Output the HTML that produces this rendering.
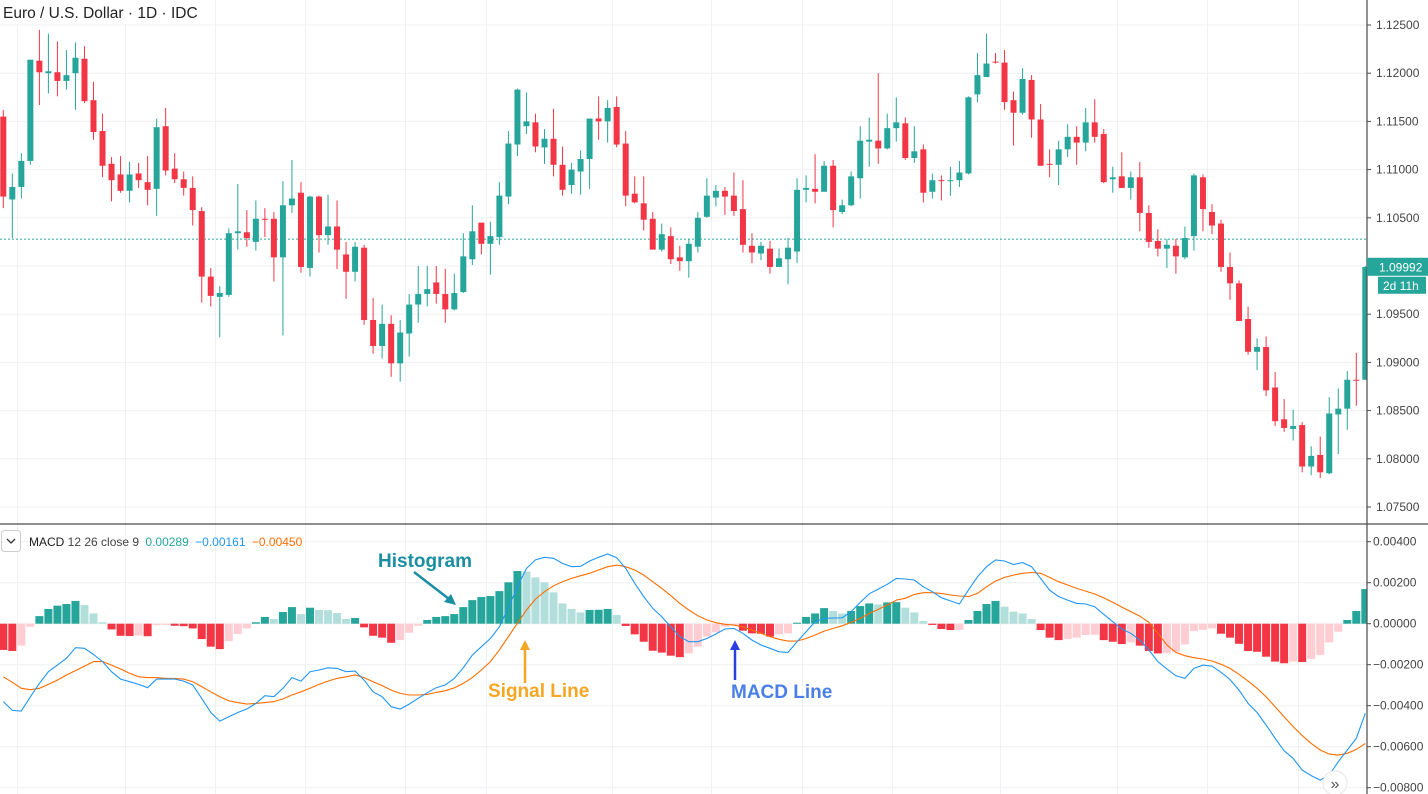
<!DOCTYPE html>
<html><head><meta charset="utf-8"><title>EUR/USD MACD</title>
<style>
html,body{margin:0;padding:0;background:#fff;width:1428px;height:794px;overflow:hidden}
svg{display:block;font-family:"Liberation Sans",sans-serif}
</style></head>
<body>
<svg id="chart" width="1428" height="794" viewBox="0 0 1428 794" xmlns="http://www.w3.org/2000/svg">
<g id="grid"></g>
<g id="candles"></g>
<g id="macdpane"></g>
<g id="axes"></g>
<rect x="0" y="0" width="200" height="24" fill="#fff"/>
<text x="3" y="18" font-size="15.5" fill="#222">Euro / U.S. Dollar · 1D · IDC</text>
<rect x="1.5" y="530.5" width="19" height="21" rx="3" fill="#fff" stroke="#ccc"/>
<path d="M7 539 L11 543 L15 539" fill="none" stroke="#333" stroke-width="1.3"/>
<text x="29" y="546" font-size="12" fill="#222">MACD <tspan fill="#444">12 26 close 9</tspan> <tspan fill="#26a69a" dx="3">0.00289</tspan> <tspan fill="#2196f3" dx="3">−0.00161</tspan> <tspan fill="#ff6d00" dx="3">−0.00450</tspan></text>
<g>
<text x="378" y="567" font-size="19" font-weight="bold" fill="#1a8ea3">Histogram</text>
<line x1="414" y1="572" x2="449" y2="599" stroke="#1a8ea3" stroke-width="2.5"/>
<path d="M456 605 L444 602 L451 594 Z" fill="#1a8ea3"/>
</g>
<g>
<text x="488" y="697" font-size="19" font-weight="bold" fill="#f5a623">Signal Line</text>
<line x1="525" y1="683" x2="525" y2="648" stroke="#f5a623" stroke-width="2.5"/>
<path d="M520 650 L525 640 L530 650 Z" fill="#f5a623"/>
</g>
<g>
<text x="731" y="698" font-size="19" font-weight="bold" fill="#4a7fe8">MACD Line</text>
<line x1="735" y1="680" x2="735" y2="648" stroke="#2a3fe0" stroke-width="2.5"/>
<path d="M730 650 L735 640 L740 650 Z" fill="#2a3fe0"/>
</g>
<g>
<circle cx="1335" cy="783" r="12" fill="#fff" stroke="#e6e6e6"/>
<text x="1335" y="789" font-size="16" text-anchor="middle" fill="#555">»</text>
</g>
</svg>
<script>
const opens=[1.1155,1.1069,1.1082,1.1109,1.1213,1.1200,1.1201,1.1192,1.1200,1.1215,1.1172,1.1140,1.1106,1.1095,1.1078,1.1096,1.1087,1.1080,1.1145,1.1101,1.1090,1.1081,1.1057,1.0989,1.0968,1.0970,1.1034,1.1035,1.1025,1.1049,1.1049,1.1009,1.1063,1.1076,1.0998,1.1072,1.1032,1.1041,1.1012,1.0994,1.1019,1.0944,1.0917,1.0940,1.0899,1.0930,1.0960,1.0971,1.0983,1.0971,1.0955,
1.0973,1.1007,1.1045,1.1023,1.1030,1.1072,1.1126,1.1145,1.1149,1.1123,1.1132,1.1105,1.1084,1.1098,1.1111,1.1153,1.1150,1.1165,1.1127,1.1075,1.1065,1.1049,1.1017,1.1031,1.1009,1.1005,1.1020,1.1051,1.1071,1.1078,1.1073,1.1059,1.1021,1.1013,1.1018,1.0999,1.1007,1.1015,1.1079,1.1080,1.1077,1.1104,1.1056,1.1063,1.1091,1.1129,1.1130,1.1122,1.1143,
1.1148,1.1112,1.1121,1.1077,1.1089,1.1088,1.1089,1.1096,1.1178,1.1196,1.1212,1.1211,1.1172,1.1159,1.1193,1.1152,1.1106,1.1105,1.1121,1.1134,1.1128,1.1149,1.1137,1.1090,1.1093,1.1081,1.1092,1.1055,1.1026,1.1018,1.1021,1.1009,1.1031,1.1092,1.1056,1.1044,1.0999,1.0982,1.0945,1.0911,1.0916,1.0874,1.0841,1.0831,1.0835,1.0792,1.0804,1.0785,1.0846,1.0852,1.0882,1.0882];
const closes=[1.1072,1.1082,1.1109,1.1214,1.1201,1.1202,1.1192,1.1198,1.1216,1.1171,1.1139,1.1104,1.1089,1.1078,1.1095,1.1089,1.1079,1.1144,1.1099,1.1090,1.1081,1.1058,1.0989,1.0969,1.0972,1.1034,1.1036,1.1029,1.1049,1.1048,1.1009,1.1063,1.1070,1.0999,1.1072,1.1032,1.1041,1.1017,1.0994,1.1020,1.0944,1.0917,1.0940,1.0899,1.0931,1.0960,1.0971,1.0976,1.0971,1.0955,1.0972,
1.1010,1.1036,1.1023,1.1031,1.1073,1.1127,1.1183,1.1150,1.1124,1.1132,1.1105,1.1079,1.1100,1.1111,1.1153,1.1150,1.1164,1.1126,1.1073,1.1066,1.1048,1.1017,1.1033,1.1007,1.1005,1.1023,1.1050,1.1073,1.1078,1.1072,1.1057,1.1022,1.1014,1.1021,1.0999,1.1008,1.1019,1.1079,1.1081,1.1077,1.1104,1.1058,1.1063,1.1093,1.1130,1.1131,1.1122,1.1143,1.1149,
1.1112,1.1119,1.1076,1.1089,1.1088,1.1089,1.1097,1.1175,1.1198,1.1210,1.1211,1.1170,1.1159,1.1194,1.1152,1.1104,1.1105,1.1121,1.1134,1.1128,1.1149,1.1134,1.1087,1.1092,1.1081,1.1092,1.1055,1.1025,1.1018,1.1022,1.1010,1.1029,1.1094,1.1059,1.1042,1.0999,1.0982,1.0943,1.0911,1.0916,1.0871,1.0839,1.0832,1.0834,1.0792,1.0803,1.0786,1.0847,1.0852,1.0882,1.0881,1.0999];
const highs=[1.1162,1.1096,1.1117,1.1214,1.1245,1.1241,1.1233,1.1224,1.1232,1.1228,1.1191,1.1158,1.1113,1.1114,1.1108,1.1107,1.1114,1.1153,1.1164,1.1117,1.1098,1.1093,1.1061,1.0998,1.0979,1.1039,1.1085,1.1058,1.1068,1.1060,1.1056,1.1088,1.1110,1.1087,1.1073,1.1073,1.1074,1.1068,1.1025,1.1025,1.1022,1.0967,1.0960,1.0949,1.0944,1.0971,1.1000,1.1000,1.1000,1.0997,1.0992,
1.1034,1.1063,1.1045,1.1046,1.1087,1.1140,1.1184,1.1180,1.1158,1.1142,1.1163,1.1124,1.1107,1.1120,1.1153,1.1176,1.1172,1.1176,1.1140,1.1093,1.1093,1.1056,1.1044,1.1040,1.1021,1.1028,1.1056,1.1091,1.1084,1.1082,1.1097,1.1089,1.1034,1.1025,1.1026,1.1018,1.1029,1.1091,1.1094,1.1116,1.1109,1.1110,1.1069,1.1098,1.1145,1.1154,1.1200,1.1158,1.1175,
1.1154,1.1145,1.1126,1.1096,1.1094,1.1103,1.1109,1.1176,1.1221,1.1241,1.1221,1.1224,1.1181,1.1205,1.1198,1.1168,1.1121,1.1130,1.1147,1.1145,1.1164,1.1173,1.1142,1.1103,1.1118,1.1098,1.1108,1.1063,1.1038,1.1028,1.1028,1.1041,1.1096,1.1095,1.1064,1.1048,1.1014,1.0985,1.0958,1.0925,1.0927,1.0890,1.0862,1.0851,1.0838,1.0813,1.0823,1.0864,1.0873,1.0891,1.0910,1.1000];
const lows=[1.1060,1.1029,1.1070,1.1105,1.1167,1.1179,1.1176,1.1183,1.1162,1.1169,1.1131,1.1092,1.1067,1.1076,1.1066,1.1081,1.1063,1.1052,1.1094,1.1086,1.1073,1.1042,1.0962,1.0958,1.0926,1.0968,1.1017,1.1020,1.1016,1.1030,1.0984,1.0928,1.1055,1.0993,1.0989,1.1014,1.1022,1.0997,1.0966,1.0984,1.0939,1.0909,1.0904,1.0885,1.0880,1.0906,1.0941,1.0958,1.0961,1.0941,1.0954,
1.0972,1.1001,1.1012,1.0991,1.1022,1.1064,1.1114,1.1137,1.1118,1.1106,1.1093,1.1073,1.1075,1.1074,1.1080,1.1131,1.1128,1.1123,1.1062,1.1065,1.1037,1.1017,1.1015,1.1002,1.0995,1.0988,1.1014,1.1050,1.1062,1.1053,1.1052,1.1014,1.1003,1.1006,1.0992,1.0999,1.0981,1.1003,1.1066,1.1065,1.1077,1.1040,1.1054,1.1062,1.1070,1.1103,1.1106,1.1121,1.1129,
1.1110,1.1107,1.1066,1.1070,1.1068,1.1073,1.1082,1.1095,1.1170,1.1196,1.1210,1.1162,1.1125,1.1157,1.1133,1.1104,1.1092,1.1084,1.1113,1.1105,1.1119,1.1128,1.1086,1.1076,1.1081,1.1069,1.1036,1.1019,1.1010,1.0998,1.0992,1.1007,1.1016,1.1036,1.1033,1.0994,1.0965,1.0943,1.0908,1.0892,1.0865,1.0834,1.0828,1.0819,1.0786,1.0783,1.0780,1.0784,1.0805,1.0830,1.0855,1.0882];
const histValues=[-0.00128,-0.00133,-0.00107,-0.00015,0.00037,0.00072,0.00088,0.00096,0.00111,0.00091,0.0005,
0.00007,-0.00028,-0.00059,-0.0006,-0.00058,-0.00061,-0.00007,-0.00006,-0.0001,-0.00012,
-0.00023,-0.00075,-0.00112,-0.00124,-0.00085,-0.0005,-0.00023,0.00007,0.00033,0.00023,
0.00057,0.00081,0.00047,0.00078,0.00067,0.00066,0.00052,0.00023,0.00028,-0.00018,
-0.00059,-0.00068,-0.00093,-0.0008,-0.00044,-0.0001,0.00018,0.00033,0.00037,0.00047,
0.00081,0.00115,0.0013,0.00135,0.00159,0.00202,0.00257,0.00254,0.00226,0.00202,
0.00153,0.00099,0.00072,0.00055,0.00067,0.00068,0.00072,0.00042,-0.00011,-0.00052,
-0.00088,-0.00132,-0.00141,-0.00156,-0.00163,-0.00145,-0.00112,-0.00063,-0.00042,-0.00015,
-0.00007,-0.00034,-0.00047,-0.00049,-0.00063,-0.00052,-0.00047,0.00005,0.00033,0.0005,
0.00076,0.00062,0.0005,0.00062,0.00086,0.00099,0.00094,0.00104,0.00105,0.00078,
0.00055,0.00013,-0.00006,-0.00026,-0.00031,-0.0003,0.00018,0.00062,0.00096,0.00111,
0.00083,0.00059,0.0005,0.00023,-0.00031,-0.00068,-0.0008,-0.00075,-0.00068,-0.00055,
-0.00054,-0.0008,-0.00088,-0.00099,-0.00091,-0.00107,-0.00133,-0.00145,-0.00144,-0.00137,
-0.00101,-0.00036,-0.0003,-0.00023,-0.00049,-0.00068,-0.00098,-0.00133,-0.00137,-0.00161,
-0.00185,-0.00193,-0.00185,-0.00187,-0.00172,-0.00153,-0.00091,-0.00039,0.00018,0.00062,0.00169];
const macdValues=[-0.00380,-0.00423,-0.00426,-0.00356,-0.00291,-0.00234,-0.00202,-0.00169,-0.00117,-0.00120,-0.00150,-0.00185,-0.00234,-0.00270,-0.00283,-0.00296,-0.00312,-0.00270,-0.00270,-0.00270,-0.00280,-0.00299,-0.00364,-0.00433,-0.00475,-0.00454,-0.00433,-0.00416,-0.00389,-0.00351,-0.00356,-0.00315,-0.00263,-0.00280,-0.00234,-0.00226,-0.00215,-0.00218,-0.00234,-0.00231,-0.00275,-0.00332,-0.00356,-0.00405,-0.00416,-0.00392,-0.00364,-0.00337,-0.00312,-0.00299,-0.00267,
-0.00215,-0.00153,-0.00112,-0.00072,-0.00015,0.00078,0.00180,0.00270,0.00311,0.00324,0.00319,0.00294,0.00278,0.00280,0.00306,0.00324,0.00340,0.00322,0.00270,0.00197,0.00132,0.00075,0.00034,-0.00015,-0.00063,-0.00088,-0.00088,-0.00072,-0.00050,-0.00026,-0.00023,-0.00047,-0.00080,-0.00104,-0.00120,-0.00137,-0.00140,-0.00088,-0.00039,0.00010,0.00026,0.00028,0.00029,0.00059,0.00104,0.00146,0.00169,0.00192,0.00221,
0.00218,0.00213,0.00180,0.00156,0.00127,0.00111,0.00096,0.00164,0.00229,0.00278,0.00311,0.00306,0.00289,0.00298,0.00278,0.00221,0.00164,0.00132,0.00115,0.00099,0.00096,0.00083,0.00046,0.00010,-0.00026,-0.00047,-0.00080,-0.00128,-0.00185,-0.00221,-0.00254,-0.00267,-0.00218,-0.00202,-0.00207,-0.00237,-0.00272,-0.00324,-0.00389,-0.00433,-0.00494,-0.00559,-0.00620,-0.00657,-0.00714,-0.00741,-0.00763,-0.00738,-0.00673,-0.00616,-0.00559,-0.00437];
const signalValues=[-0.00259,-0.00286,-0.00315,-0.00322,-0.00315,-0.00296,-0.00275,-0.00250,-0.00229,-0.00207,-0.00185,-0.00185,-0.00202,-0.00221,-0.00242,-0.00259,-0.00263,-0.00263,-0.00267,-0.00267,-0.00270,-0.00283,-0.00307,-0.00332,-0.00356,-0.00376,-0.00385,-0.00392,-0.00389,-0.00385,-0.00380,-0.00367,-0.00348,-0.00332,-0.00315,-0.00296,-0.00280,-0.00267,-0.00259,-0.00250,-0.00263,-0.00283,-0.00302,-0.00324,-0.00340,-0.00348,-0.00348,-0.00345,-0.00335,-0.00327,-0.00313,
-0.00291,-0.00263,-0.00226,-0.00185,-0.00128,-0.00063,0.00002,0.00067,0.00120,0.00156,0.00185,0.00205,0.00221,0.00234,0.00246,0.00262,0.00278,0.00286,0.00278,0.00262,0.00237,0.00205,0.00172,0.00137,0.00099,0.00067,0.00039,0.00018,0.00005,-0.00003,-0.00007,-0.00015,-0.00031,-0.00047,-0.00063,-0.00076,-0.00085,-0.00085,-0.00072,-0.00055,-0.00036,-0.00023,-0.00010,0.00007,0.00026,0.00050,0.00070,0.00091,0.00115,
0.00124,0.00143,0.00151,0.00151,0.00148,0.00140,0.00135,0.00132,0.00148,0.00180,0.00208,0.00226,0.00237,0.00246,0.00250,0.00246,0.00226,0.00205,0.00189,0.00172,0.00159,0.00145,0.00127,0.00104,0.00081,0.00059,0.00037,0.00007,-0.00047,-0.00104,-0.00140,-0.00156,-0.00166,-0.00172,-0.00182,-0.00198,-0.00218,-0.00247,-0.00280,-0.00315,-0.00356,-0.00405,-0.00454,-0.00502,-0.00546,-0.00584,-0.00616,-0.00636,-0.00641,-0.00632,-0.00613,-0.00584];
const priceTicks=[1.125,1.12,1.115,1.11,1.105,1.1,1.095,1.09,1.085,1.08,1.075];
const priceTickLabels=["1.12500","1.12000","1.11500","1.11000","1.10500","1.10000","1.09500","1.09000","1.08500","1.08000","1.07500"];
const macdTicks=[0.004,0.002,0,-0.002,-0.004,-0.006,-0.008];
const macdTickLabels=["0.00400","0.00200","0.00000","−0.00200","−0.00400","−0.00600","−0.00800"];
const gridDateIndices=[1,13,23,33,44,53,67,78,88,98,110,123,133,143];
const lastPrice=1.09992;
const prevCloseLevel=1.10279;

const NS="http://www.w3.org/2000/svg";
const AXIS_X=1367;
function xOf(i){return 3.3+9.02*i;}
function yPrice(p){return 25+(1.125-p)/0.005*48.2;}
function yMacd(v){return 623.7-v/0.002*41;}
function mk(tag,attrs,parent){const e=document.createElementNS(NS,tag);for(const k in attrs)e.setAttribute(k,attrs[k]);parent.appendChild(e);return e;}

const grid=document.getElementById('grid');
priceTicks.forEach((p,k)=>{const l=mk('line',{x1:0,x2:AXIS_X,y1:yPrice(p),y2:yPrice(p),stroke:'#eef0f3','stroke-width':1},grid);

});
macdTicks.forEach(v=>{const l=mk('line',{x1:0,x2:AXIS_X,y1:yMacd(v),y2:yMacd(v),stroke:'#eef0f3','stroke-width':1},grid);

});
gridDateIndices.forEach(i=>{const x=Math.round(xOf(i)+4.5)+0.5;const l=mk('line',{x1:x,x2:x,y1:0,y2:794,stroke:'#eef0f3','stroke-width':1},grid);

});

const cg=document.getElementById('candles');
const clipP=mk('clipPath',{id:'clipP'},cg);mk('rect',{x:0,y:0,width:AXIS_X,height:523},clipP);
const cin=mk('g',{'clip-path':'url(#clipP)'},cg);
// previous close dotted line
const pl=mk('line',{x1:0,x2:AXIS_X,y1:yPrice(prevCloseLevel),y2:yPrice(prevCloseLevel),stroke:'#26a69a','stroke-width':1,'stroke-dasharray':'2 2'},cin);


const n=Math.min(opens.length,closes.length,highs.length,lows.length);
for(let i=0;i<n;i++){
  const up=closes[i]>=opens[i];const col=up?'#26a69a':'#f23645';const x=xOf(i);
  const w=mk('line',{x1:x,x2:x,y1:yPrice(highs[i]),y2:yPrice(lows[i]),stroke:col,'stroke-width':1},cin);
  
  
  const t=yPrice(Math.max(opens[i],closes[i])),b=yPrice(Math.min(opens[i],closes[i]));
  const r=mk('rect',{x:x-3,y:t,width:6,height:Math.max(1,b-t),fill:col},cin);
  
  
}

const mg=document.getElementById('macdpane');
const clipM=mk('clipPath',{id:'clipM'},mg);mk('rect',{x:0,y:525,width:AXIS_X,height:269},clipM);
const min=mk('g',{'clip-path':'url(#clipM)'},mg);
for(let i=0;i<histValues.length;i++){
  const v=histValues[i],prev=i>0?histValues[i-1]:v-1e-9*(v>=0?-1:1);
  let col;
  if(v>=0)col=(v>=prev)?'#26a69a':'#b2dfdb';else col=(v<prev)?'#f23645':'#ffcdd2';
  if(i===0)col=v>=0?'#26a69a':'#f23645';
  const y0=yMacd(0),y1=yMacd(v);
  const r=mk('rect',{x:xOf(i)-4,y:Math.min(y0,y1),width:8,height:Math.max(1,Math.abs(y1-y0)),fill:col},min);
  
  
}
function linePath(arr){return arr.map((v,i)=>(i?'L':'M')+xOf(i).toFixed(1)+' '+yMacd(v).toFixed(1)).join(' ');}
const sl=mk('path',{d:linePath(signalValues),fill:'none',stroke:'#ff6d00','stroke-width':1.1},min);


const ml=mk('path',{d:linePath(macdValues),fill:'none',stroke:'#2196f3','stroke-width':1.1},min);



const ax=document.getElementById('axes');
mk('rect',{x:AXIS_X,y:0,width:1428-AXIS_X,height:794,fill:'#fff'},ax);
const sep=mk('line',{x1:0,x2:1428,y1:524,y2:524,stroke:'#4a4a4a','stroke-width':1.2},ax);


const al=mk('line',{x1:AXIS_X,x2:AXIS_X,y1:0,y2:794,stroke:'#4a4a4a','stroke-width':1.2},ax);


priceTicks.forEach((p,k)=>{const y=yPrice(p);
  mk('line',{x1:AXIS_X,x2:AXIS_X+4,y1:y,y2:y,stroke:'#4a4a4a'},ax);
  const t=mk('text',{x:1376,y:y+4,'font-size':12,fill:'#444'},ax);t.textContent=priceTickLabels[k];
  
  });
macdTicks.forEach((v,k)=>{const y=yMacd(v);
  mk('line',{x1:AXIS_X,x2:AXIS_X+4,y1:y,y2:y,stroke:'#4a4a4a'},ax);
  const t=mk('text',{x:1373,y:y+4,'font-size':12,fill:'#444'},ax);t.textContent=macdTickLabels[k];
  
  });
const ly=yPrice(lastPrice);
const lb=mk('rect',{x:AXIS_X,y:ly-9,width:1428-AXIS_X,height:18,fill:'#26a69a'},ax);


const lt=mk('text',{x:1379,y:ly+4.5,'font-size':12,fill:'#fff'},ax);lt.textContent=lastPrice.toFixed(5);


const cb=mk('rect',{x:1378,y:ly+10,width:48,height:17,fill:'#26a69a'},ax);


const ct=mk('text',{x:1383,y:ly+23,'font-size':12,fill:'#fff'},ax);ct.textContent='2d 11h';


</script>
</body></html>
